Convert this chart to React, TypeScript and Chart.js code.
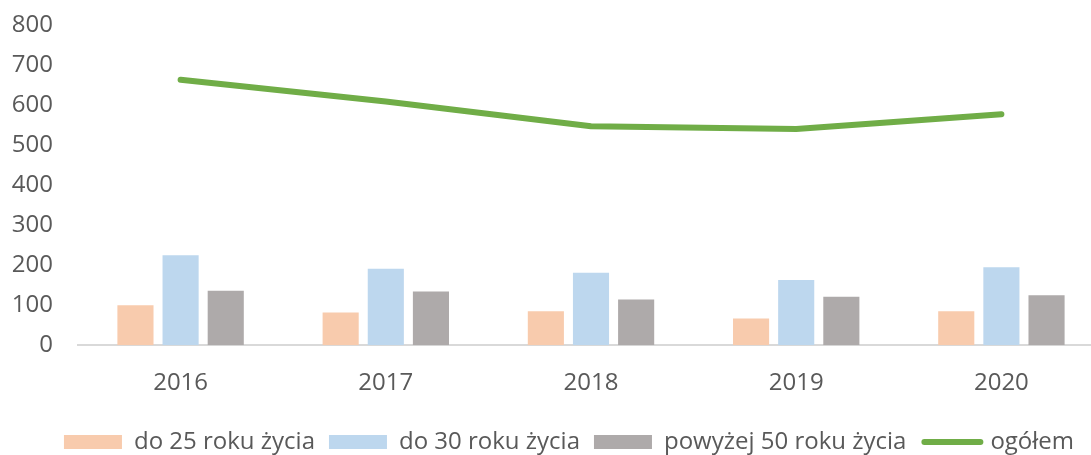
import React, { useEffect, useRef } from "react";
import { Chart, registerables } from "chart.js";

Chart.register(...registerables);

const categories = ["2016", "2017", "2018", "2019", "2020"];
const under25 = [100, 82, 85, 67, 85];
const under30 = [225, 191, 181, 163, 195];
const over50 = [136, 134, 114, 121, 125];
const total = [663, 609, 547, 540, 577];
const seriesNames = ["do 25 roku życia", "do 30 roku życia", "powyżej 50 roku życia", "ogółem"];
const yTicks = [0, 100, 200, 300, 400, 500, 600, 700, 800];

const GREEN = "#70AD47";
const LEGEND_DX = 17;
const LEGEND_DY = 2;

const legendShift = {
  id: "legendShift",
  afterLayout(chart: any) {
    const lg = chart.legend;
    if (!lg) return;
    lg.left += LEGEND_DX;
    lg.right += LEGEND_DX;
    lg.top += LEGEND_DY;
    lg.bottom += LEGEND_DY;
  },
  afterDraw(chart: any) {
    const lg = chart.legend;
    if (!lg || !lg.legendHitBoxes) return;
    const idx = lg.legendItems.findIndex((it: any) => it.datasetIndex === 3);
    const hb = lg.legendHitBoxes[idx];
    if (!hb) return;
    const bw = lg.options.labels.boxWidth;
    const ctx = chart.ctx;
    ctx.save();
    ctx.strokeStyle = GREEN;
    ctx.lineWidth = 6;
    ctx.lineCap = "round";
    const y = hb.top + hb.height / 2;
    ctx.beginPath();
    ctx.moveTo(hb.left + 4, y);
    ctx.lineTo(hb.left + bw + 2, y);
    ctx.stroke();
    ctx.restore();
  },
};

export default function App() {
  const ref = useRef<HTMLCanvasElement | null>(null);
  useEffect(() => {
    document.body.style.margin = "0";
    document.body.style.overflow = "hidden";
    const ctx = ref.current!;
    const chart = new Chart(ctx, {
      type: "bar",
      data: {
        labels: categories,
        datasets: [
          { type: "bar", label: seriesNames[0], data: under25, backgroundColor: "#F8CBAD", order: 1, categoryPercentage: 0.66, barPercentage: 0.8 },
          { type: "bar", label: seriesNames[1], data: under30, backgroundColor: "#BDD7EE", order: 1, categoryPercentage: 0.66, barPercentage: 0.8 },
          { type: "bar", label: seriesNames[2], data: over50, backgroundColor: "#AEAAAA", order: 1, categoryPercentage: 0.66, barPercentage: 0.8 },
          { type: "line", label: seriesNames[3], data: total, borderColor: GREEN, backgroundColor: GREEN, borderWidth: 6, pointRadius: 0, borderCapStyle: "round", borderJoinStyle: "round", tension: 0, order: 0 } as any,
        ],
      },
      plugins: [legendShift],
      options: {
        animation: false,
        responsive: false,
        layout: { padding: { left: 0, top: 25, right: 0, bottom: -7 } },
        plugins: {
          tooltip: { enabled: false },
          legend: {
            position: "bottom",
            labels: {
              boxWidth: 58,
              boxHeight: 14,
              padding: 14,
              color: "#595959",
              font: { family: "Open Sans", size: 24 },
              sort: (a: any, b: any) => a.datasetIndex - b.datasetIndex,
              generateLabels: (c: any) => {
                const items = Chart.defaults.plugins.legend.labels.generateLabels(c);
                return items.map((it: any) => ({
                  ...it,
                  lineWidth: 0,
                  strokeStyle: "rgba(0,0,0,0)",
                  fillStyle: it.datasetIndex === 3 ? "rgba(0,0,0,0)" : it.fillStyle,
                }));
              },
            },
          },
        },
        scales: {
          x: {
            grid: { display: false },
            border: { display: true, color: "#D9D9D9", width: 2 },
            ticks: { color: "#595959", font: { family: "Open Sans", size: 24 }, padding: 16 },
          },
          y: {
            min: 0,
            max: 800,
            grid: { display: false, drawTicks: false },
            border: { display: false },
            afterBuildTicks: (s: any) => { s.ticks = yTicks.map((v) => ({ value: v })); },
            afterFit: (s: any) => { s.width = 78; s.paddingTop = 0; s.paddingBottom = 0; },
            ticks: { color: "#595959", font: { family: "Open Sans", size: 24 }, padding: 25 },
          },
        },
      },
    } as any);
    return () => chart.destroy();
  }, []);
  return (
    <div style={{ width: 1091, height: 455, overflow: "hidden" }}>
      <canvas ref={ref} width={1104} height={455} style={{ display: "block" }} />
    </div>
  );
}
